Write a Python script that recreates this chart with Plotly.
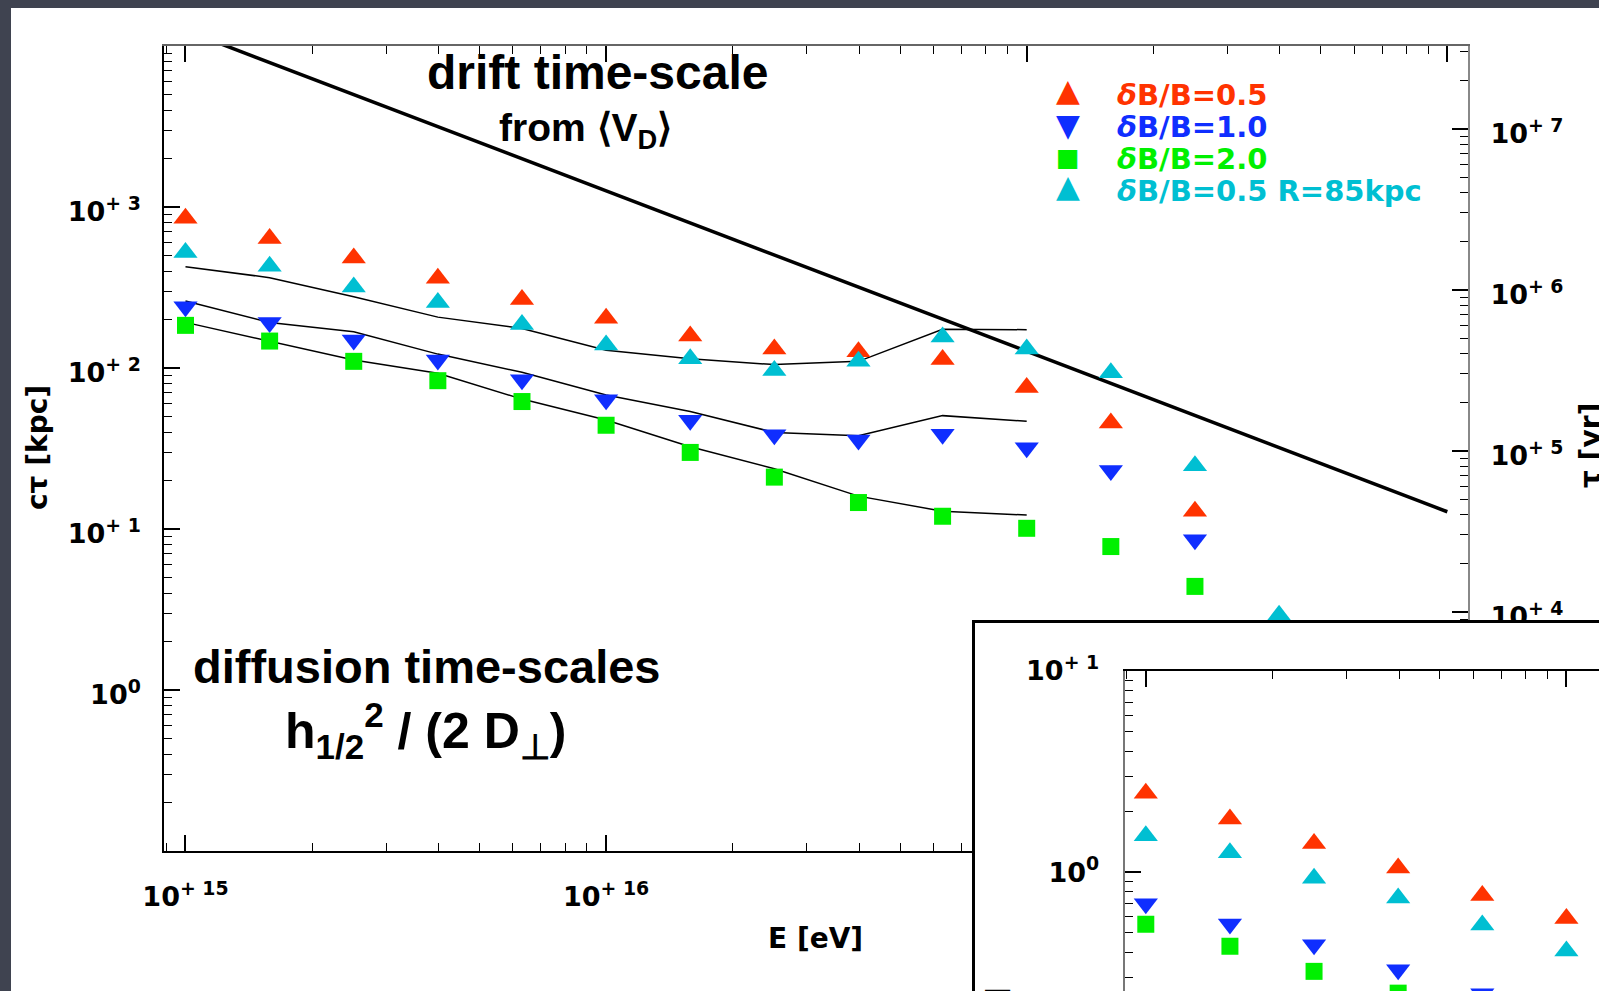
import plotly.graph_objects as go

W, H = 1599, 991

# ---------------- data ----------------
energy_eV = [1.000e15, 1.585e15, 2.512e15, 3.981e15, 6.310e15,
             1.000e16, 1.585e16, 2.512e16, 3.981e16, 6.310e16,
             1.000e17, 1.585e17, 2.512e17, 3.981e17]

# main panel: c*tau [kpc]
ctau_db05 = [851, 637, 483, 361, 266, 204, 158, 131, 126, 113, 75.7, 45.6, 12.9]
ctau_db10 = [240, 192, 149, 112, 84.5, 63.4, 47.3, 38.5, 35.7, 38.8, 32.0, 23.1, 8.57]
ctau_db20 = [184, 147, 110, 83.4, 61.9, 44.1, 29.9, 21.0, 14.6, 12.0, 10.1, 7.78, 4.40]
ctau_db05_r85 = [522, 429, 318, 255, 186, 139, 114, 96.4, 110, 156, 131, 93.5, 24.7, 2.91]

# thin curves (diffusion time-scales)
diff_line_a = [426, 364, 277, 207, 176, 129, 114, 105, 110, 174, 173]
diff_line_b = [261, 192, 168, 122, 94.0, 67.9, 53.6, 39.8, 38.0, 50.6, 46.7]
diff_line_c = [192, 147, 112, 92.7, 64.1, 47.5, 32.4, 23.7, 16.0, 12.9, 12.2]

# drift time-scale line
drift_E = [1e15, 1e18]
drift_ctau = [1.25e4, 12.8]

# inset panel
inset_db05 = [2.47, 1.84, 1.39, 1.05, 0.767, 0.589]
inset_db10 = [0.697, 0.553, 0.437, 0.328, 0.249]
inset_db20 = [0.552, 0.429, 0.322, 0.251]
inset_db05_r85 = [1.52, 1.25, 0.933, 0.746, 0.547, 0.406]

x_major = [1e15, 1e16, 1e17, 1e18]
# labels of 1e17 / 1e18 lie under the inset in the reference, so they are not shown
x_major_text = ["10<sup>+ 15</sup>", "10<sup>+ 16</sup>", "", ""]
y_major = [1, 10, 100, 1000]
y_major_text = ["10<sup>0</sup>", "10<sup>+ 1</sup>", "10<sup>+ 2</sup>", "10<sup>+ 3</sup>"]
tau_major = [1e4, 1e5, 1e6, 1e7]
tau_major_text = ["10<sup>+ 4</sup>", "10<sup>+ 5</sup>", "10<sup>+ 6</sup>", "10<sup>+ 7</sup>"]
inset_y_major = [1, 10]
inset_y_major_text = ["10<sup>0</sup>", "10<sup>+ 1</sup>"]

legend_labels = ["<i>δ</i>B/B=0.5", "<i>δ</i>B/B=1.0", "<i>δ</i>B/B=2.0", "<i>δ</i>B/B=0.5 R=85kpc"]
legend_glyphs = ["▲", "▼", "■", "▲"]

# ---------------- styles ----------------
RED, BLUE, GREEN, CYAN = "#ff3300", "#0f2eff", "#00f000", "#00bfd2"
legend_colors = [RED, BLUE, GREEN, CYAN]
KPC_TO_YR = 10 ** 3.5134  # 1 kpc / c in yr


def minor_vals(e0, e1):
    return [m * 10 ** e for e in range(e0, e1 + 1) for m in range(2, 10)]


TICKFONT = dict(family="DejaVu Sans", size=27, color="black", weight="bold")


def px_x(p):
    return p / W


def px_y(p):
    return 1 - p / H


fig = go.Figure()

# main panel traces
fig.add_trace(go.Scatter(x=drift_E, y=drift_ctau, mode="lines",
                         line=dict(color="black", width=3.5), xaxis="x", yaxis="y"))
for yl in (diff_line_a, diff_line_b, diff_line_c):
    fig.add_trace(go.Scatter(x=energy_eV[:len(yl)], y=yl, mode="lines",
                             line=dict(color="black", width=1.5), xaxis="x", yaxis="y"))

main_series = [
    (ctau_db05, "triangle-up", RED, 21),
    (ctau_db10, "triangle-down", BLUE, 21),
    (ctau_db20, "square", GREEN, 17),
    (ctau_db05_r85, "triangle-up", CYAN, 21),
]
for vals, sym, col, sz in main_series:
    fig.add_trace(go.Scatter(x=energy_eV[:len(vals)], y=vals, mode="markers",
                             marker=dict(symbol=sym, color=col, size=sz, line=dict(width=0)),
                             xaxis="x", yaxis="y"))

# secondary (top / right) axes of the main panel: same drift data, nothing drawn
fig.add_trace(go.Scatter(x=drift_E, y=drift_ctau, mode="none", xaxis="x4", yaxis="y",
                         hoverinfo="skip"))
fig.add_trace(go.Scatter(x=drift_E, y=[c * KPC_TO_YR for c in drift_ctau], mode="none",
                         xaxis="x", yaxis="y4", hoverinfo="skip"))
# white cover panel behind the inset (nothing drawn, only its background)
fig.add_trace(go.Scatter(x=[0, 1], y=[0, 1], mode="none", xaxis="x2", yaxis="y2",
                         hoverinfo="skip"))

# inset traces
inset_series = [
    (inset_db05, "triangle-up", RED, 21),
    (inset_db05_r85, "triangle-up", CYAN, 21),
    (inset_db10, "triangle-down", BLUE, 21),
    (inset_db20, "square", GREEN, 17),
]
for vals, sym, col, sz in inset_series:
    fig.add_trace(go.Scatter(x=energy_eV[:len(vals)], y=vals, mode="markers",
                             marker=dict(symbol=sym, color=col, size=sz, line=dict(width=0)),
                             xaxis="x3", yaxis="y3"))

common_log = dict(type="log", showgrid=False, zeroline=False, ticks="inside",
                  ticklen=16, tickwidth=1.5, tickcolor="black", tickmode="array",
                  tickfont=TICKFONT, showline=True)

x_range = [14.9489, 18.0492]
y_range = [-1.0, 4.0]

fig.update_layout(
    width=W, height=H,
    margin=dict(l=0, r=0, t=0, b=0, autoexpand=False),
    paper_bgcolor="#3f4350",
    plot_bgcolor="white",
    showlegend=False,
    xaxis=dict(**common_log, domain=[px_x(164), px_x(1468)], anchor="y", range=x_range,
               tickvals=x_major, ticktext=x_major_text, linecolor="black", linewidth=2,
               ticklabelstandoff=21,
               minor=dict(tickvals=minor_vals(14, 17), ticks="inside", ticklen=8,
                          tickwidth=1, tickcolor="black", showgrid=False)),
    yaxis=dict(**common_log, domain=[px_y(851), px_y(46)], anchor="x", range=y_range,
               tickvals=y_major, ticktext=y_major_text, linecolor="black", linewidth=1.5,
               ticklabelstandoff=16, ticklabelshift=5,
               minor=dict(tickvals=minor_vals(-1, 3), ticks="inside", ticklen=8,
                          tickwidth=1, tickcolor="black", showgrid=False)),
    xaxis4=dict(**common_log, overlaying="x", side="top", anchor="y", range=x_range,
                tickvals=x_major, showticklabels=False, linecolor="#666666", linewidth=1.5,
                minor=dict(tickvals=minor_vals(14, 17), ticks="inside", ticklen=8,
                           tickwidth=1, tickcolor="black", showgrid=False)),
    yaxis4=dict(**common_log, overlaying="y", side="right", anchor="x",
                range=[y_range[0] + 3.5134, y_range[1] + 3.5134],
                tickvals=tau_major, ticktext=tau_major_text, linecolor="#888888", linewidth=2,
                ticklabelstandoff=15, ticklabelshift=5,
                minor=dict(tickvals=minor_vals(2, 7), ticks="inside", ticklen=8,
                           tickwidth=1, tickcolor="black", showgrid=False)),
    # white cover box for the inset
    xaxis2=dict(domain=[px_x(972), 1.0], anchor="y2", range=[0, 1], visible=False),
    yaxis2=dict(domain=[0.0, px_y(621)], anchor="x2", range=[0, 1], visible=False),
    # inset axes
    xaxis3=dict(**common_log, domain=[px_x(1124.6), 1.0], anchor="y3", side="top",
                range=[14.9496, 16.0775], tickvals=[1e15, 1e16], showticklabels=False,
                linecolor="black", linewidth=1.5,
                minor=dict(tickvals=minor_vals(14, 15), ticks="inside", ticklen=8,
                           tickwidth=1, tickcolor="black", showgrid=False)),
    yaxis3=dict(**common_log, domain=[0.0, px_y(671)], anchor="x3", range=[-0.5897, 1.0],
                tickvals=inset_y_major, ticktext=inset_y_major_text, linecolor="#777777",
                linewidth=2, ticklabelstandoff=18,
                minor=dict(tickvals=minor_vals(-1, 0), ticks="inside", ticklen=8,
                           tickwidth=1, tickcolor="black", showgrid=False)),
)

# white slide panel and inset border
fig.add_shape(type="rect", xref="paper", yref="paper", x0=px_x(11), x1=1.0,
              y0=0, y1=px_y(8), fillcolor="white", line=dict(width=0), layer="below")
fig.add_shape(type="rect", xref="paper", yref="paper", x0=px_x(973.5), x1=1.02,
              y0=-0.02, y1=px_y(621.5), fillcolor="rgba(0,0,0,0)",
              line=dict(color="black", width=3), layer="above")

HAND = dict(family="Liberation Sans", color="black", weight="bold")
LBL = dict(family="DejaVu Sans", color="black", weight="bold")


def ann(text, x, y, font, **kw):
    d = dict(text=text, x=px_x(x), y=px_y(y), xref="paper", yref="paper",
             showarrow=False, font=font, xanchor="center", yanchor="middle")
    d.update(kw)
    fig.add_annotation(**d)


ann("drift time-scale", 597, 72, dict(HAND, size=48))
ann("from ⟨V<sub>D</sub>⟩", 585, 131, dict(HAND, size=39))
ann("diffusion time-scales", 427, 666, dict(HAND, size=47))
ann("h<sub>1/2</sub><sup>2</sup> / (2 D<sub>⊥</sub>)", 425, 730, dict(HAND, size=50))
ann("E [eV]", 816, 938, dict(LBL, size=28))
ann("cτ [kpc]", 37, 448, dict(LBL, size=28), textangle=-90)
ann("τ [yr]", 1590, 446, dict(LBL, size=28), textangle=-90)
# y title of the inset, only its top end is inside the window
ann("cτ [kpc]", 997, 986, dict(LBL, size=28), textangle=-90, yanchor="top")

legend_rows = [95, 127, 159, 191]
glyph_dy = {"▲": -5, "▼": -2, "■": -1}
for lab, gly, col, yy in zip(legend_labels, legend_glyphs, legend_colors, legend_rows):
    gsize = 25 if gly == "■" else 31
    ann(gly, 1068, yy + glyph_dy[gly], dict(family="DejaVu Sans", size=gsize, color=col))
    ann(lab, 1115, yy, dict(LBL, size=29, color=col), xanchor="left")

fig.write_html("out.html")
